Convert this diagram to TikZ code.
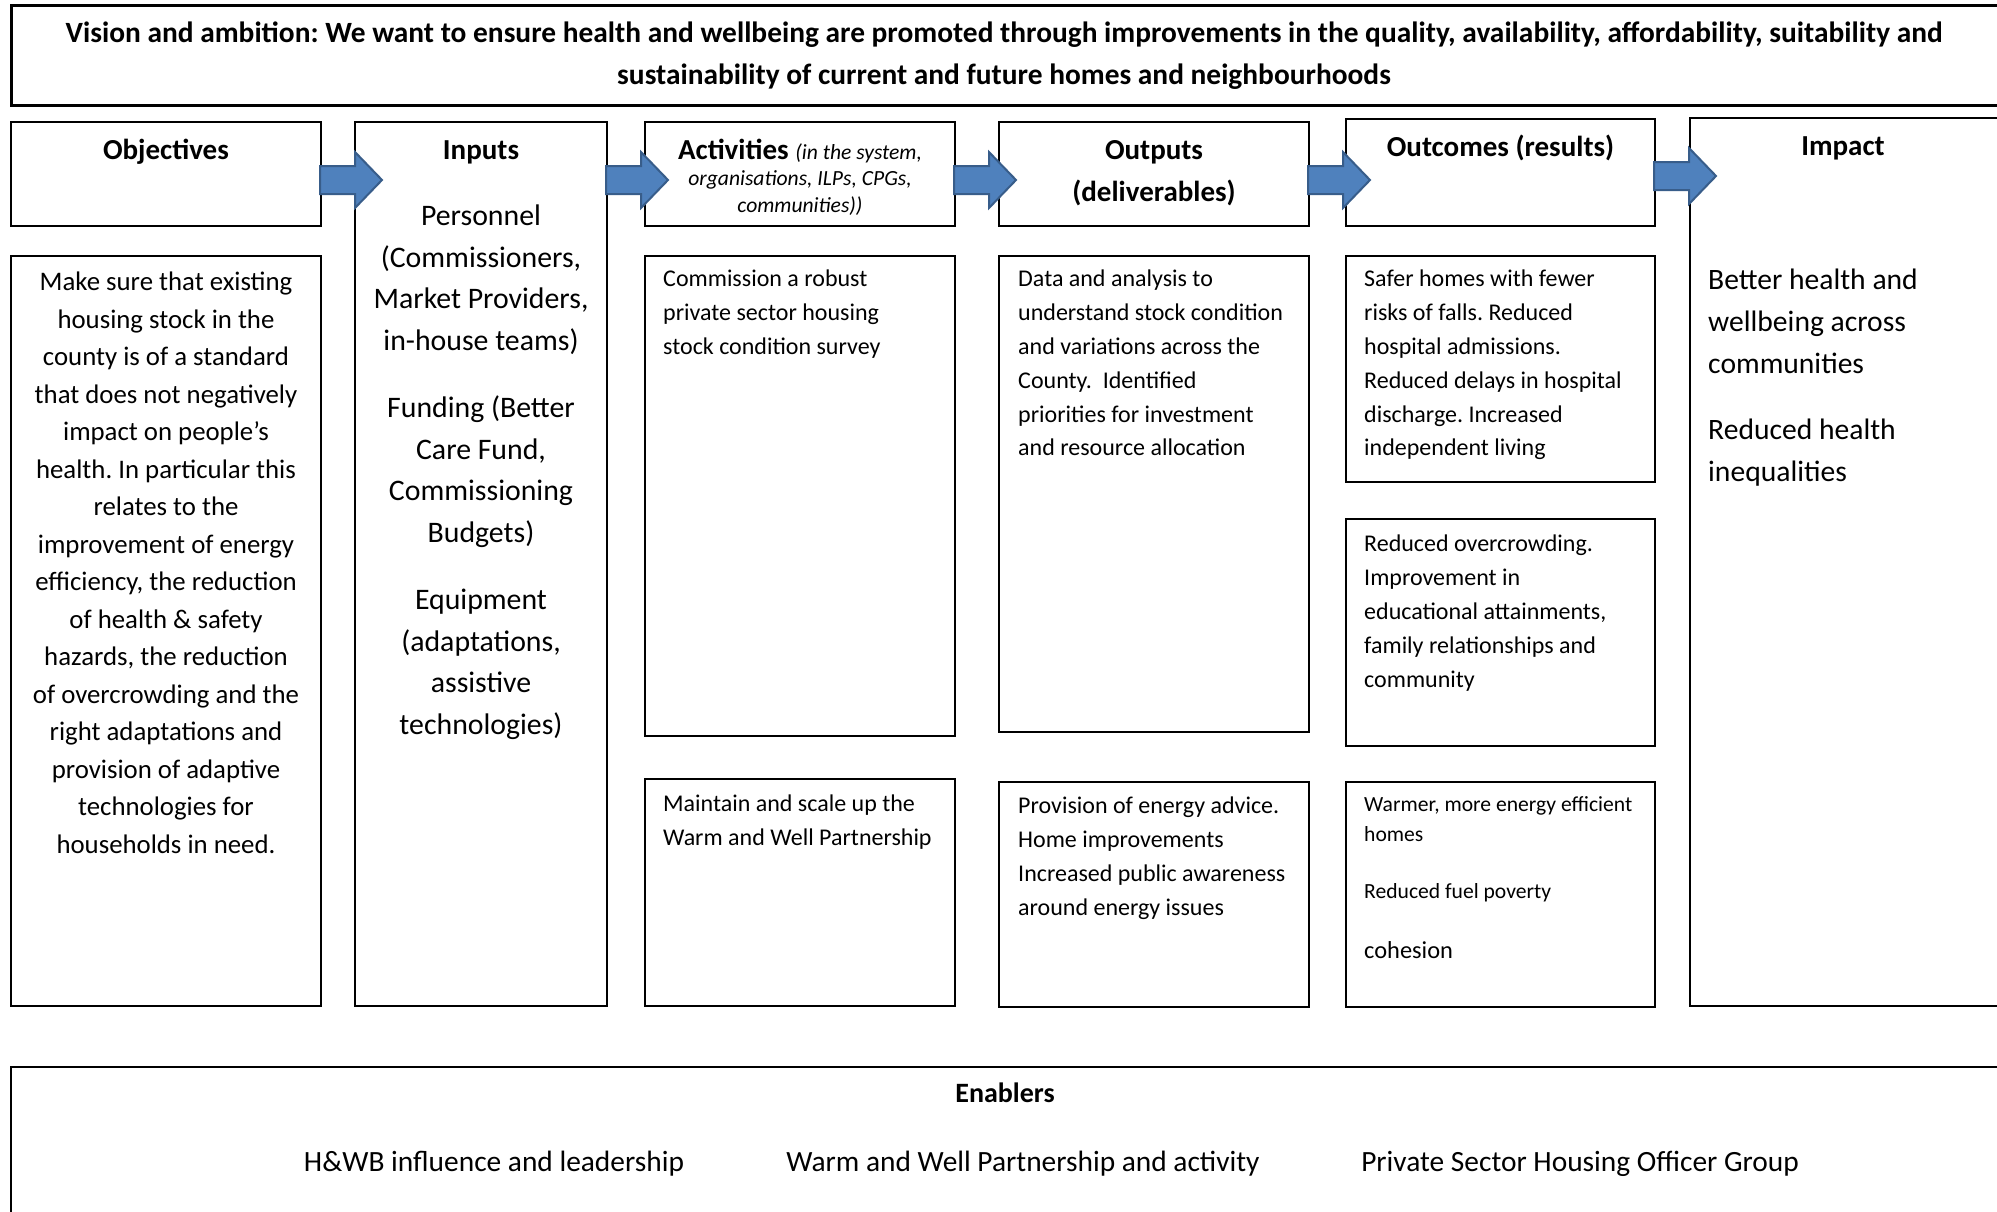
\documentclass[tikz,border=0pt]{standalone}
\usepackage{fontspec}
\setmainfont{Carlito}
\usetikzlibrary{calc}
\definecolor{arrowfill}{HTML}{4F81BD}
\definecolor{arrowedge}{HTML}{385D8A}
\newcommand{\fsz}[2]{\fontsize{#1}{#2}\selectfont}
% block arrow starting at a named coordinate (shaft centre line)
\newcommand{\flowarrow}[1]{%
  \draw[blockarrow] ($(#1)+(0,-14)$) -- ++(35,0) -- ++(0,-14) -- ++(27,28)
    -- ++(-27,28) -- ++(0,-14) -- ++(-35,0) -- cycle;}
\frenchspacing
\begin{document}
\begin{tikzpicture}[x=1pt,y=-1pt,
  frame/.style={draw=black, line width=2pt, inner sep=0pt, anchor=north west},
  head/.style={inner sep=0pt, font=\fsz{29}{42}\bfseries, align=center},
  bodyL/.style={inner sep=0pt, anchor=north west, align=left},
  bodyC/.style={inner sep=0pt, anchor=north, align=center},
  blockarrow/.style={fill=arrowfill, draw=arrowedge, line width=2pt, line join=miter}
]
\useasboundingbox (0,0) rectangle (1997,1211);
\clip (0,0) rectangle (1997,1211);
\fill[white] (0,0) rectangle (1997,1211);

% ---- frames ----
\node[frame, line width=2.5pt, minimum width=2100pt, minimum height=100pt] (vision) at (10,4) {};
\node[frame, minimum width=310pt, minimum height=104pt] (objh) at (10,121) {};
\node[frame, minimum width=252pt, minimum height=884pt] (inputs) at (354,121) {};
\node[frame, minimum width=310pt, minimum height=104pt] (acth) at (644,121) {};
\node[frame, minimum width=310pt, minimum height=104pt] (outh) at (998,121) {};
\node[frame, minimum width=309pt, minimum height=107pt] (ocmh) at (1345,118) {};
\node[frame, minimum width=400pt, minimum height=888pt] (impact) at (1689,117) {};
\node[frame, minimum width=310pt, minimum height=750pt] (objb) at (10,255) {};
\node[frame, minimum width=310pt, minimum height=480pt] (act1) at (644,255) {};
\node[frame, minimum width=310pt, minimum height=227pt] (act2) at (644,778) {};
\node[frame, minimum width=310pt, minimum height=476pt] (out1) at (998,255) {};
\node[frame, minimum width=310pt, minimum height=225pt] (out2) at (998,781) {};
\node[frame, minimum width=309pt, minimum height=226pt] (ocm1) at (1345,255) {};
\node[frame, minimum width=309pt, minimum height=227pt] (ocm2) at (1345,518) {};
\node[frame, minimum width=309pt, minimum height=225pt] (ocm3) at (1345,781) {};
\node[frame, minimum width=2100pt, minimum height=300pt] (enab) at (10,1066) {};

% ---- vision statement ----
\node[bodyC, font=\fsz{29.4}{42}\bfseries] (visiontxt) at ($(vision.north west)+(994,18)$)
  {Vision and ambition: We want to ensure health and wellbeing are promoted through improvements in the quality, availability, affordability, suitability and\\
   sustainability of current and future homes and neighbourhoods};

% ---- column headings ----
\node[head, anchor=base] (objlbl) at ($(objh.north)+(0,38)$) {Objectives};
\node[head, anchor=base] (inlbl) at ($(inputs.north)+(0,38)$) {Inputs};
\node[inner sep=0pt, anchor=base] (actlbl) at ($(acth.north)+(0,38)$)
  {\fsz{29}{42}\bfseries Activities \fsz{21.6}{27}\mdseries\itshape (in the system,};
\node[bodyC, font=\fsz{21.6}{26.7}\itshape] (actsub) at ($(acth.north)+(0,49.5)$)
  {organisations, ILPs, CPGs,\\communities))};
\node[head, anchor=north] (outlbl) at ($(outh.north)+(0,19)$) {Outputs\\(deliverables)};
\node[head, anchor=base] (ocmlbl) at ($(ocmh.north)+(0,38)$) {Outcomes (results)};
\node[head, anchor=base] (implbl) at ($(impact.north west)+(154,38)$) {Impact};

% ---- column contents ----
\node[bodyC, font=\fsz{26.8}{37.5}] (objtxt) at ($(objb.north)+(0,17)$)
  {Make sure that existing\\housing stock in the\\county is of a standard\\that does not negatively\\
   impact on people’s\\health. In particular this\\relates to the\\improvement of energy\\
   efficiency, the reduction\\of health \& safety\\hazards, the reduction\\of overcrowding and the\\
   right adaptations and\\provision of adaptive\\technologies for\\households in need.};

\node[bodyC, font=\fsz{29.8}{41.5}] (intxt) at ($(inputs.north)+(0,84)$)
  {Personnel\\(Commissioners,\\Market Providers,\\in-house teams)\\[26pt]
   Funding (Better\\Care Fund,\\Commissioning\\Budgets)\\[26pt]
   Equipment\\(adaptations,\\assistive\\technologies)};

\node[bodyL, font=\fsz{24}{33.8}] (act1txt) at ($(act1.north west)+(19,15)$)
  {Commission a robust\\private sector housing\\stock condition survey};
\node[bodyL, font=\fsz{24}{33.8}] (act2txt) at ($(act2.north west)+(19,16.5)$)
  {Maintain and scale up the\\Warm and Well Partnership};

\node[bodyL, font=\fsz{24}{33.8}] (out1txt) at ($(out1.north west)+(20,15)$)
  {Data and analysis to\\understand stock condition\\and variations across the\\
   County.~ Identified\\priorities for investment\\and resource allocation};
\node[bodyL, font=\fsz{24}{33.8}] (out2txt) at ($(out2.north west)+(20,16)$)
  {Provision of energy advice.\\Home improvements\\Increased public awareness\\around energy issues};

\node[bodyL, font=\fsz{24}{33.8}] (ocm1txt) at ($(ocm1.north west)+(19,15)$)
  {Safer homes with fewer\\risks of falls. Reduced\\hospital admissions.\\
   Reduced delays in hospital\\discharge. Increased\\independent living};
\node[bodyL, font=\fsz{24}{33.8}] (ocm2txt) at ($(ocm2.north west)+(19,17)$)
  {Reduced overcrowding.\\Improvement in\\educational attainments,\\family relationships and\\community};
\node[bodyL, font=\fsz{21.6}{30.6}] (ocm3txt) at ($(ocm3.north west)+(19,15)$)
  {Warmer, more energy efficient\\homes\\[26.5pt]Reduced fuel poverty};
\node[bodyL, font=\fsz{24.4}{33.8}] (ocm3b) at ($(ocm3.north west)+(19,160)$) {cohesion};

\node[bodyL, font=\fsz{29.6}{42}] (imptxt) at ($(impact.north west)+(19,152)$)
  {Better health and\\wellbeing across\\communities\\[24pt]Reduced health\\inequalities};

% ---- enablers ----
\node[inner sep=0pt, anchor=base, font=\fsz{28}{34}\bfseries] (enlbl) at ($(enab.north west)+(995,36)$) {Enablers};
\node[inner sep=0pt, anchor=base, font=\fsz{29.4}{34}] (en1) at ($(enab.north west)+(484,105.5)$) {H\&WB influence and leadership};
\node[inner sep=0pt, anchor=base, font=\fsz{29.4}{34}] (en2) at ($(enab.north west)+(1013,105.5)$) {Warm and Well Partnership and activity};
\node[inner sep=0pt, anchor=base, font=\fsz{29.4}{34}] (en3) at ($(enab.north west)+(1570,105.5)$) {Private Sector Housing Officer Group};

% ---- flow arrows between the headings ----
\coordinate (a1) at ($(objh.north east)+(-2,59)$);
\coordinate (a2) at ($(inputs.north east)+(-2,59)$);
\coordinate (a3) at ($(acth.north east)+(-2,59)$);
\coordinate (a4) at ($(outh.north east)+(-2,59)$);
\coordinate (a5) at ($(ocmh.north east)+(-2,58)$);
\flowarrow{a1}
\flowarrow{a2}
\flowarrow{a3}
\flowarrow{a4}
\flowarrow{a5}
\end{tikzpicture}
\end{document}
